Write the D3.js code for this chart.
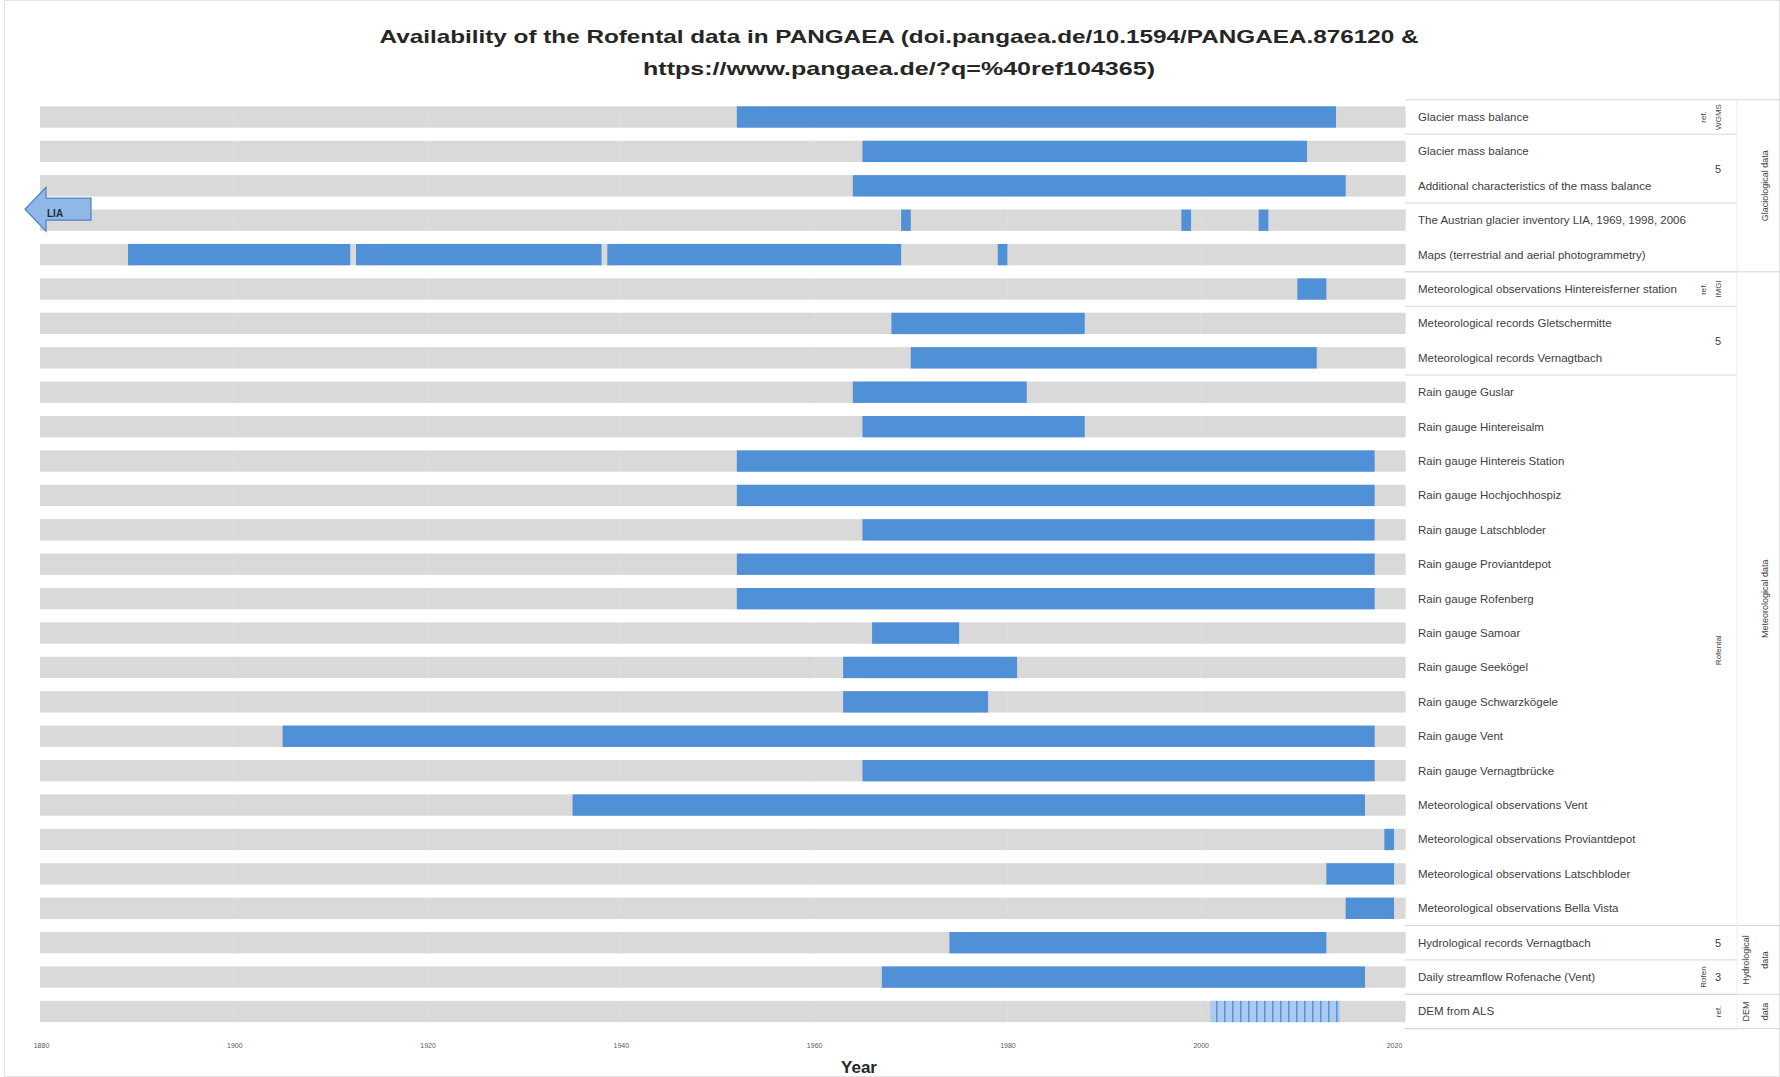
<!DOCTYPE html>
<html>
<head>
<meta charset="utf-8">
<script src="https://cdn.jsdelivr.net/npm/d3@7"></script>
<style>
  body { margin: 0; background: #fff; }
  svg { display: block; font-family: "Liberation Sans", Arial, sans-serif; }
</style>
</head>
<body>
<script>
// datasets, top to bottom
const datasets = [
  "Glacier mass balance",
  "Glacier mass balance",
  "Additional characteristics of the mass balance",
  "The Austrian glacier inventory LIA, 1969, 1998, 2006",
  "Maps (terrestrial and aerial photogrammetry)",
  "Meteorological observations Hintereisferner station",
  "Meteorological records Gletschermitte",
  "Meteorological records Vernagtbach",
  "Rain gauge Guslar",
  "Rain gauge Hintereisalm",
  "Rain gauge Hintereis Station",
  "Rain gauge Hochjochhospiz",
  "Rain gauge Latschbloder",
  "Rain gauge Proviantdepot",
  "Rain gauge Rofenberg",
  "Rain gauge Samoar",
  "Rain gauge Seekögel",
  "Rain gauge Schwarzkögele",
  "Rain gauge Vent",
  "Rain gauge Vernagtbrücke",
  "Meteorological observations Vent",
  "Meteorological observations Proviantdepot",
  "Meteorological observations Latschbloder",
  "Meteorological observations Bella Vista",
  "Hydrological records Vernagtbach",
  "Daily streamflow Rofenache (Vent)",
  "DEM from ALS"
];

// [row, from year, to year]
const periods = [
  [0, 1952, 2014],
  [1, 1965, 2011],
  [2, 1964, 2015],
  [3, 1969, 1970], [3, 1998, 1999], [3, 2006, 2007],
  [4, 1889, 1912], [4, 1912.6, 1938], [4, 1938.6, 1969], [4, 1979, 1980],
  [5, 2010, 2013],
  [6, 1968, 1988],
  [7, 1970, 2012],
  [8, 1964, 1982],
  [9, 1965, 1988],
  [10, 1952, 2018],
  [11, 1952, 2018],
  [12, 1965, 2018],
  [13, 1952, 2018],
  [14, 1952, 2018],
  [15, 1966, 1975],
  [16, 1963, 1981],
  [17, 1963, 1978],
  [18, 1905, 2018],
  [19, 1965, 2018],
  [20, 1935, 2017],
  [21, 2019, 2020],
  [22, 2013, 2020],
  [23, 2015, 2020],
  [24, 1974, 2013],
  [25, 1967, 2017]
];

// single acquisitions, drawn hatched
const hatchedPeriods = [
  [26, 2001, 2014.4]
];

const tickYears = [1880, 1900, 1920, 1940, 1960, 1980, 2000, 2020];
const fullRange = [1880, 2021.2];

// right side: sub groups [first row, last row, text]
const subGroups = [
  [0, 0, ""], [1, 2, "5"], [3, 4, ""], [5, 5, ""], [6, 7, "5"],
  [8, 23, ""], [24, 24, "5"], [25, 25, "3"], [26, 26, ""]
];
const mainGroups = [
  [0, 4, ["Glaciological data"]],
  [5, 23, ["Meteorological data"]],
  [24, 25, ["Hydrological", "data"]],
  [26, 26, ["DEM", "data"]]
];
// small rotated notes: [row from, row to, column, text]
const notes = [
  [0, 0, 0, "ref."], [0, 0, 1, "WGMS"],
  [5, 5, 0, "ref."], [5, 5, 1, "IMGI"],
  [8, 23, 1, "Rofental"],
  [25, 25, 0, "Rofen"],
  [26, 26, 1, "ref."]
];

const W = 1780, H = 1077;
const svg = d3.select("body").append("svg").attr("width", W).attr("height", H);

svg.append("rect")
  .attr("x", 4.5).attr("y", 0.5).attr("width", W - 5).attr("height", H - 1)
  .attr("fill", "#fff").attr("stroke", "#e4e4e4");

const x = d3.scaleLinear().domain([1880, 2020]).range([41, 1394]);
const y = d3.scaleBand()
  .domain(d3.range(datasets.length))
  .range([99.8, 1028.7])
  .paddingInner(0.38)
  .paddingOuter(0.19);
const step = y.step();
const rowTop = i => y(i) - y.paddingOuter() * step;

// title
const title = svg.append("g").attr("font-weight", "bold").attr("fill", "#262626")
  .attr("text-anchor", "middle").attr("font-size", 19);
title.append("text").attr("x", 899).attr("y", 43)
  .attr("textLength", 1039).attr("lengthAdjust", "spacingAndGlyphs")
  .text("Availability of the Rofental data in PANGAEA (doi.pangaea.de/10.1594/PANGAEA.876120 &");
title.append("text").attr("x", 899).attr("y", 75)
  .attr("textLength", 512).attr("lengthAdjust", "spacingAndGlyphs")
  .text("https://www.pangaea.de/?q=%40ref104365)");

// hatch pattern
const pat = svg.append("defs").append("pattern")
  .attr("id", "hatch").attr("patternUnits", "userSpaceOnUse")
  .attr("width", 8).attr("height", 20);
pat.append("rect").attr("width", 8).attr("height", 20).attr("fill", "#a9cbf0");
pat.append("rect").attr("x", 0).attr("width", 1.6).attr("height", 20).attr("fill", "#5b95d6");

// background bars
svg.append("g").selectAll("rect").data(datasets).join("rect")
  .attr("x", x(fullRange[0]) - 1)
  .attr("y", (d, i) => y(i))
  .attr("width", x(fullRange[1]) - x(fullRange[0]) + 1)
  .attr("height", y.bandwidth())
  .attr("fill", "#d9d9d9");

// faint grid lines across bars
svg.append("g").selectAll("line").data(tickYears.slice(1, -1)).join("line")
  .attr("x1", d => x(d)).attr("x2", d => x(d))
  .attr("y1", 100).attr("y2", 1028)
  .attr("stroke", "#fff").attr("stroke-opacity", 0.18);

// data bars
svg.append("g").selectAll("rect").data(periods).join("rect")
  .attr("x", d => x(d[1]))
  .attr("y", d => y(d[0]))
  .attr("width", d => x(d[2]) - x(d[1]))
  .attr("height", y.bandwidth())
  .attr("fill", "#5090d6");

svg.append("g").selectAll("rect").data(hatchedPeriods).join("rect")
  .attr("x", d => x(d[1]))
  .attr("y", d => y(d[0]))
  .attr("width", d => x(d[2]) - x(d[1]))
  .attr("height", y.bandwidth())
  .attr("fill", "url(#hatch)");

// LIA arrow on the inventory row
{
  const cy = y(3) + y.bandwidth() / 2 - 11;
  const x0 = x(1880) - 16;
  const g = svg.append("g");
  g.append("path")
    .attr("d", `M${x0},${cy} L${x0 + 21},${cy - 22} L${x0 + 21},${cy - 11} L${x0 + 66},${cy - 11}
                L${x0 + 66},${cy + 11} L${x0 + 21},${cy + 11} L${x0 + 21},${cy + 22} Z`)
    .attr("fill", "#8fb8e6").attr("stroke", "#4f82c0").attr("stroke-width", 1.2);
  g.append("text").attr("x", x0 + 22).attr("y", cy + 8)
    .attr("font-size", 10).attr("font-weight", "bold").attr("fill", "#1f2d44")
    .text("LIA");
}

// x axis: tick labels only
const xAxis = d3.axisBottom(x).tickValues(tickYears).tickFormat(d3.format("d")).tickSize(0);
const ax = svg.append("g").attr("transform", "translate(0,1040)").call(xAxis);
ax.select(".domain").remove();
ax.selectAll("text").attr("font-size", 7).attr("fill", "#595959")
  .attr("font-family", "Liberation Sans, Arial, sans-serif");

svg.append("text").attr("x", 859).attr("y", 1073).attr("text-anchor", "middle")
  .attr("font-size", 17).attr("font-weight", "bold").attr("fill", "#262626")
  .text("Year");

// right side labels
const labelX = 1418, colA = 1703, colB = 1718, colLine = 1737;
svg.append("g").selectAll("text").data(datasets).join("text")
  .attr("x", labelX)
  .attr("y", (d, i) => y(i) + y.bandwidth() / 2 + 4)
  .attr("font-size", 11.5).attr("fill", "#404040")
  .text(d => d);

const sep = svg.append("g").attr("stroke", "#d6d6d6").attr("stroke-width", 1);
sep.append("line").attr("x1", 1405).attr("x2", W).attr("y1", rowTop(0)).attr("y2", rowTop(0));
subGroups.forEach(g => {
  const yy = rowTop(g[1]) + step;
  sep.append("line").attr("x1", 1405).attr("x2", colLine).attr("y1", yy).attr("y2", yy);
});
mainGroups.forEach(g => {
  const yy = rowTop(g[1]) + step;
  sep.append("line").attr("x1", 1405).attr("x2", W).attr("y1", yy).attr("y2", yy);
});
sep.append("line").attr("x1", colLine).attr("x2", colLine)
  .attr("y1", rowTop(0)).attr("y2", rowTop(datasets.length - 1) + step)
  .attr("stroke", "#ececec");

// numbers in sub groups
svg.append("g").selectAll("text").data(subGroups.filter(g => g[2])).join("text")
  .attr("x", colB)
  .attr("y", g => (rowTop(g[0]) + rowTop(g[1]) + step) / 2 + 4)
  .attr("text-anchor", "middle").attr("font-size", 11).attr("fill", "#404040")
  .text(g => g[2]);

// rotated notes
svg.append("g").selectAll("text").data(notes).join("text")
  .attr("transform", n => {
    const cx = n[2] === 0 ? colA : colB;
    const cy = (rowTop(n[0]) + rowTop(n[1]) + step) / 2;
    return `translate(${cx + 3},${cy}) rotate(-90)`;
  })
  .attr("text-anchor", "middle").attr("font-size", 8).attr("fill", "#404040")
  .text(n => n[3]);

// main group names
mainGroups.forEach(g => {
  const cy = (rowTop(g[0]) + rowTop(g[1]) + step) / 2;
  const lines = g[2];
  lines.forEach((t, k) => {
    const cx = 1765 - (lines.length - 1 - k) * 19;
    svg.append("text")
      .attr("transform", `translate(${cx + 3},${cy}) rotate(-90)`)
      .attr("text-anchor", "middle").attr("font-size", 9).attr("fill", "#404040")
      .text(t);
  });
});
</script>
</body>
</html>
